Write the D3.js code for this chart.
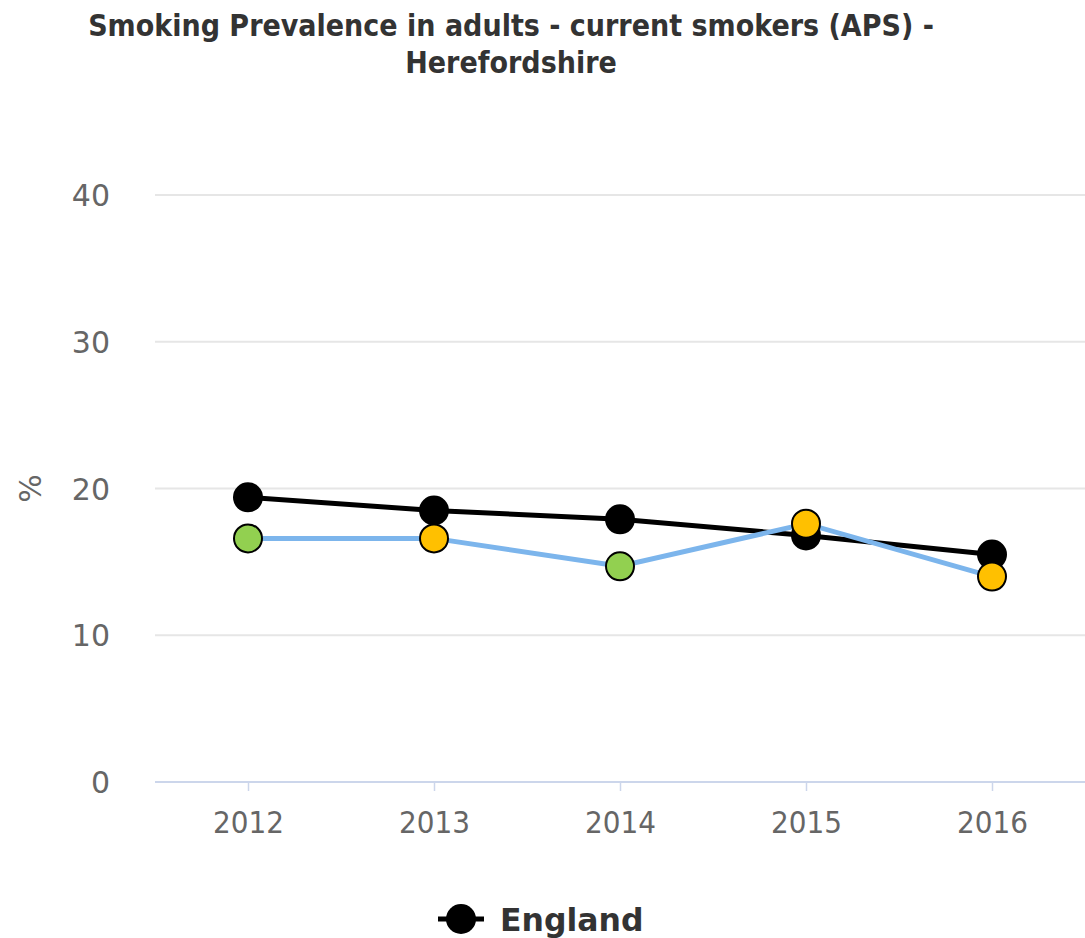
<!DOCTYPE html>
<html>
<head>
<meta charset="utf-8">
<script src="https://cdn.jsdelivr.net/npm/d3@7"></script>
<style>
  body { margin: 0; background: #fff; }
  svg { display: block; }
</style>
</head>
<body>
<div id="chart"></div>
<script>
// chart data
const years = ["2012", "2013", "2014", "2015", "2016"];
const englandValues = [19.4, 18.5, 17.9, 16.8, 15.5];
const localValues = [16.6, 16.6, 14.7, 17.6, 14.0];
// comparison vs England: similar / better
const localColours = ["#92d050", "#ffc000", "#92d050", "#ffc000", "#ffc000"];
const yTicks = [0, 10, 20, 30, 40];

const width = 1085, height = 938;
const margin = {left: 155, right: 0, top: 195, bottom: 156};

const svg = d3.select("#chart").append("svg")
    .attr("width", width)
    .attr("height", height);

// title
const title = svg.append("text")
    .attr("text-anchor", "middle")
    .attr("font-family", "'DejaVu Sans Condensed', 'DejaVu Sans', sans-serif")
    .attr("font-weight", "bold")
    .attr("font-size", 30)
    .attr("fill", "#333");
title.append("tspan").attr("x", 511).attr("y", 36)
    .text("Smoking Prevalence in adults - current smokers (APS) -");
title.append("tspan").attr("x", 511).attr("y", 73)
    .text("Herefordshire");

const x = d3.scalePoint()
    .domain(years)
    .range([margin.left, width - margin.right])
    .padding(0.5);

const y = d3.scaleLinear()
    .domain([0, 40])
    .range([height - margin.bottom, margin.top]);

// grid
svg.append("g")
    .selectAll("line")
    .data(yTicks.filter(d => d > 0))
    .enter().append("line")
    .attr("x1", margin.left)
    .attr("x2", width - margin.right)
    .attr("y1", d => y(d))
    .attr("y2", d => y(d))
    .attr("stroke", "#e6e6e6")
    .attr("stroke-width", 2);

// y labels
svg.append("g")
    .selectAll("text")
    .data(yTicks)
    .enter().append("text")
    .attr("x", 110)
    .attr("y", d => y(d) + 11)
    .attr("text-anchor", "end")
    .attr("font-family", "'DejaVu Sans', sans-serif")
    .attr("font-size", 30)
    .attr("fill", "#666")
    .text(d => d);

svg.append("text")
    .attr("transform", "translate(41," + y(20) + ") rotate(-90)")
    .attr("text-anchor", "middle")
    .attr("font-family", "'DejaVu Sans', sans-serif")
    .attr("font-size", 30)
    .attr("fill", "#666")
    .text("%");

// x axis
const xAxis = svg.append("g")
    .attr("transform", "translate(0," + y(0) + ")")
    .call(d3.axisBottom(x).tickSize(9).tickSizeOuter(0).tickPadding(20));
xAxis.select(".domain").attr("stroke", "#ccd6eb").attr("stroke-width", 2)
    .attr("d", "M" + margin.left + ",0H" + (width - margin.right));
xAxis.selectAll(".tick line").attr("stroke", "#ccd6eb").attr("stroke-width", 1.5);
xAxis.selectAll(".tick text")
    .attr("font-family", "'DejaVu Sans Condensed', 'DejaVu Sans', sans-serif")
    .attr("font-size", 31)
    .attr("fill", "#666");

const line = d3.line()
    .x((d, i) => x(years[i]))
    .y(d => y(d));

// England
svg.append("path")
    .datum(englandValues)
    .attr("d", line)
    .attr("fill", "none")
    .attr("stroke", "#000")
    .attr("stroke-width", 5);
svg.append("g")
    .selectAll("circle")
    .data(englandValues)
    .enter().append("circle")
    .attr("cx", (d, i) => x(years[i]))
    .attr("cy", d => y(d))
    .attr("r", 15)
    .attr("fill", "#000");

// Herefordshire
svg.append("path")
    .datum(localValues)
    .attr("d", line)
    .attr("fill", "none")
    .attr("stroke", "#7cb5ec")
    .attr("stroke-width", 5);
svg.append("g")
    .selectAll("circle")
    .data(localValues)
    .enter().append("circle")
    .attr("cx", (d, i) => x(years[i]))
    .attr("cy", d => y(d))
    .attr("r", 14)
    .attr("fill", (d, i) => localColours[i])
    .attr("stroke", "#000")
    .attr("stroke-width", 2);

// legend
const legend = svg.append("g").attr("transform", "translate(461,919)");
legend.append("line")
    .attr("x1", -23).attr("x2", 23)
    .attr("stroke", "#000").attr("stroke-width", 5);
legend.append("circle").attr("r", 15).attr("fill", "#000");
legend.append("text")
    .attr("x", 39)
    .attr("y", 12)
    .attr("font-family", "'DejaVu Sans', sans-serif")
    .attr("font-weight", "bold")
    .attr("font-size", 31.5)
    .attr("fill", "#333")
    .text("England");
</script>
</body>
</html>
